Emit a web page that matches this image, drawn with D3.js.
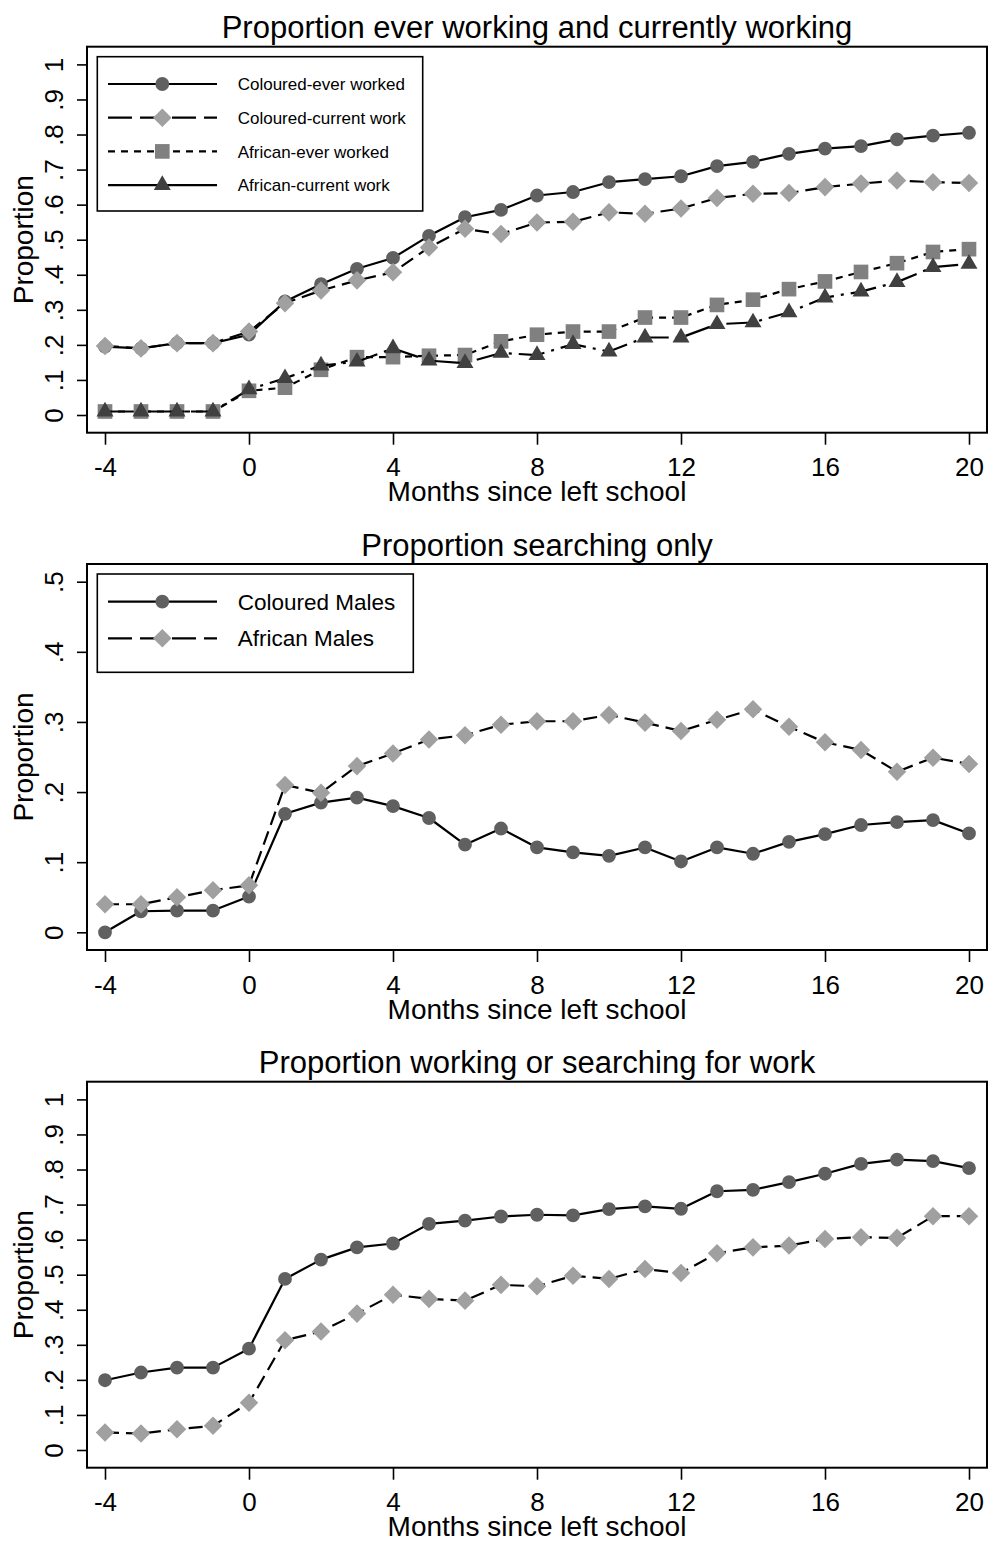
<!DOCTYPE html>
<html>
<head>
<meta charset="utf-8">
<script src="https://cdn.jsdelivr.net/npm/d3@7"></script>
<style>
  html, body { margin: 0; padding: 0; background: #fff; }
  svg { display: block; font-family: "Liberation Sans", Arial, Helvetica, sans-serif; }
</style>
</head>
<body>
<svg id="chart" width="988" height="1541"></svg>
<script>
// ---------------- data ----------------
const months = [-4,-3,-2,-1,0,1,2,3,4,5,6,7,8,9,10,11,12,13,14,15,16,17,18,19,20];
const xTicks = [-4,0,4,8,12,16,20];
const yTicksFull = [0,0.1,0.2,0.3,0.4,0.5,0.6,0.7,0.8,0.9,1];
const yTicksHalf = [0,0.1,0.2,0.3,0.4,0.5];

const titles = ["Proportion ever working and currently working",
                "Proportion searching only",
                "Proportion working or searching for work"];
const xAxisTitle = "Months since left school";
const yAxisTitle = "Proportion";

// Panel 1
const p1ColouredEver    = [0.195,0.190,0.205,0.205,0.229,0.324,0.373,0.417,0.448,0.511,0.564,0.585,0.626,0.636,0.664,0.673,0.681,0.710,0.722,0.745,0.760,0.767,0.786,0.797,0.805];
const p1ColouredCurrent = [0.197,0.190,0.205,0.205,0.238,0.319,0.355,0.384,0.407,0.478,0.531,0.516,0.549,0.551,0.578,0.574,0.589,0.619,0.631,0.633,0.650,0.660,0.669,0.664,0.662];
const p1AfricanEver     = [0.010,0.010,0.010,0.010,0.069,0.078,0.129,0.165,0.165,0.169,0.171,0.210,0.229,0.238,0.238,0.278,0.278,0.314,0.329,0.359,0.381,0.408,0.433,0.465,0.473];
const p1AfricanCurrent  = [0.010,0.010,0.010,0.010,0.073,0.105,0.141,0.152,0.190,0.155,0.148,0.177,0.171,0.202,0.181,0.221,0.221,0.259,0.264,0.293,0.335,0.352,0.379,0.422,0.431];
const p1Labels = ["Coloured-ever worked","Coloured-current work","African-ever worked","African-current work"];

// Panel 2
const p2Coloured = [0.000,0.030,0.031,0.031,0.051,0.169,0.185,0.192,0.180,0.163,0.125,0.148,0.121,0.114,0.109,0.121,0.101,0.121,0.112,0.129,0.140,0.153,0.157,0.160,0.141];
const p2African  = [0.040,0.040,0.050,0.060,0.067,0.210,0.199,0.237,0.255,0.275,0.281,0.296,0.301,0.301,0.310,0.299,0.287,0.303,0.318,0.293,0.271,0.260,0.229,0.249,0.240];
const p2Labels = ["Coloured Males","African Males"];

// Panel 3
const p3Coloured = [0.199,0.221,0.235,0.235,0.289,0.488,0.543,0.578,0.589,0.645,0.654,0.666,0.671,0.669,0.687,0.695,0.688,0.738,0.742,0.764,0.788,0.816,0.828,0.824,0.804];
const p3African  = [0.050,0.047,0.059,0.069,0.135,0.313,0.338,0.389,0.443,0.431,0.426,0.471,0.467,0.497,0.488,0.516,0.505,0.561,0.578,0.583,0.602,0.607,0.605,0.667,0.667];

// ---------------- styles ----------------
const styles = {
  circle:   {type: d3.symbolCircle,   size: 150, fill: "#606060", rotate: 0},
  diamond:  {type: d3.symbolSquare,   size: 172, fill: "#a0a0a0", rotate: 45},
  square:   {type: d3.symbolSquare,   size: 215, fill: "#808080", rotate: 0},
  triangle: {type: d3.symbolTriangle, size: 125, fill: "#404040", rotate: 0}
};
const dashSolid = null, dashLong = "14,7", dashShort = "7,6", dashDot = "26,7,3,7";

const svg = d3.select("#chart");
const FONT = "'Liberation Sans', Arial, Helvetica, sans-serif";

const frameL = 87, frameR = 987;
const inset = 18;
const x = d3.scaleLinear().domain([-4, 20]).range([frameL + inset, frameR - inset]);

function fmt(d) {
  if (d === 0) return "0";
  if (d === 1) return "1";
  return d3.format(".1f")(d).replace(/^0/, "");
}

function panel(cfg) {
  const top = cfg.top, bottom = cfg.top + 386;
  const g = svg.append("g");
  const y = d3.scaleLinear().domain(cfg.yDomain).range([bottom - 17.7, top + 17.7]);

  // title
  g.append("text").attr("x", (frameL + frameR) / 2).attr("y", top - 8.5)
    .attr("text-anchor", "middle").attr("font-size", 31).attr("fill", "#000")
    .text(cfg.title);

  // x axis
  const xa = g.append("g").attr("transform", `translate(0,${bottom})`)
    .call(d3.axisBottom(x).tickValues(xTicks).tickSize(12).tickPadding(0).tickFormat(d => String(d)));
  xa.select(".domain").remove();
  xa.selectAll(".tick line").attr("stroke", "#000").attr("stroke-width", 1.6);
  xa.selectAll(".tick text").attr("font-size", 26).attr("font-family", FONT).attr("fill", "#000")
    .attr("y", 43.5).attr("dy", null);

  // x axis title
  g.append("text").attr("x", (frameL + frameR) / 2).attr("y", bottom + 68.5)
    .attr("text-anchor", "middle").attr("font-size", 28).text(xAxisTitle);

  // y axis
  const ya = g.append("g").attr("transform", `translate(${frameL},0)`)
    .call(d3.axisLeft(y).tickValues(cfg.yTicks).tickSize(10).tickFormat(fmt));
  ya.select(".domain").remove();
  ya.selectAll(".tick line").attr("stroke", "#000").attr("stroke-width", 1.6);
  ya.selectAll(".tick text").attr("font-size", 26).attr("font-family", FONT).attr("fill", "#000")
    .attr("x", null).attr("dy", null)
    .attr("text-anchor", "middle")
    .attr("transform", "translate(-24,0) rotate(-90)");

  // y axis title
  g.append("text").attr("transform", `translate(33,${(y.range()[0] + y.range()[1]) / 2}) rotate(-90)`)
    .attr("text-anchor", "middle").attr("font-size", 28).text(yAxisTitle);

  // frame
  g.append("rect").attr("x", frameL).attr("y", top).attr("width", frameR - frameL).attr("height", bottom - top)
    .attr("fill", "none").attr("stroke", "#000").attr("stroke-width", 2);

  // series
  const line = d3.line().x((d, i) => x(months[i])).y(d => y(d));
  cfg.series.forEach(s => {
    const st = styles[s.marker];
    g.append("path").datum(s.values).attr("d", line)
      .attr("fill", "none").attr("stroke", "#000").attr("stroke-width", 2.2)
      .attr("stroke-dasharray", s.dash).attr("stroke-linejoin", "round");
    g.append("g").selectAll("path").data(s.values).join("path")
      .attr("d", d3.symbol().type(st.type).size(st.size))
      .attr("transform", (d, i) => `translate(${x(months[i])},${y(d)}) rotate(${st.rotate})`)
      .attr("fill", st.fill);
  });

  // legend
  if (cfg.legend) {
    const L = cfg.legend;
    const lg = g.append("g");
    lg.append("rect").attr("x", 97.3).attr("y", L.y0).attr("width", L.w).attr("height", L.h)
      .attr("fill", "#fff").attr("stroke", "#000").attr("stroke-width", 1.6);
    cfg.series.forEach((s, i) => {
      const cy = L.first + i * L.step;
      const st = styles[s.marker];
      lg.append("line").attr("x1", 108).attr("x2", 217).attr("y1", cy).attr("y2", cy)
        .attr("stroke", "#000").attr("stroke-width", 2.2).attr("stroke-dasharray", s.legendDash);
      lg.append("path").attr("d", d3.symbol().type(st.type).size(st.size))
        .attr("transform", `translate(162.3,${cy}) rotate(${st.rotate})`).attr("fill", st.fill);
      lg.append("text").attr("x", 237.7).attr("y", cy + L.fs * 0.36).attr("font-size", L.fs)
        .text(s.label);
    });
  }
}

panel({
  top: 46.7, yDomain: [0, 1], yTicks: yTicksFull, title: titles[0],
  series: [
    {values: p1ColouredEver, marker: "circle", dash: dashSolid, legendDash: dashSolid, label: p1Labels[0]},
    {values: p1ColouredCurrent, marker: "diamond", dash: dashLong, legendDash: "24,8", label: p1Labels[1]},
    {values: p1AfricanEver, marker: "square", dash: dashShort, legendDash: "7,6", label: p1Labels[2]},
    {values: p1AfricanCurrent, marker: "triangle", dash: dashDot, legendDash: dashSolid, label: p1Labels[3]}
  ],
  legend: {y0: 56.7, w: 325.4, h: 154.3, first: 84, step: 33.7, fs: 17}
});

panel({
  top: 564, yDomain: [0, 0.5], yTicks: yTicksHalf, title: titles[1],
  series: [
    {values: p2Coloured, marker: "circle", dash: dashSolid, legendDash: dashSolid, label: p2Labels[0]},
    {values: p2African, marker: "diamond", dash: dashLong, legendDash: "24,8", label: p2Labels[1]}
  ],
  legend: {y0: 574, w: 316, h: 98.3, first: 601.7, step: 36.6, fs: 22.5}
});

panel({
  top: 1081.7, yDomain: [0, 1], yTicks: yTicksFull, title: titles[2],
  series: [
    {values: p3Coloured, marker: "circle", dash: dashSolid, label: ""},
    {values: p3African, marker: "diamond", dash: dashLong, label: ""}
  ]
});
</script>
</body>
</html>
